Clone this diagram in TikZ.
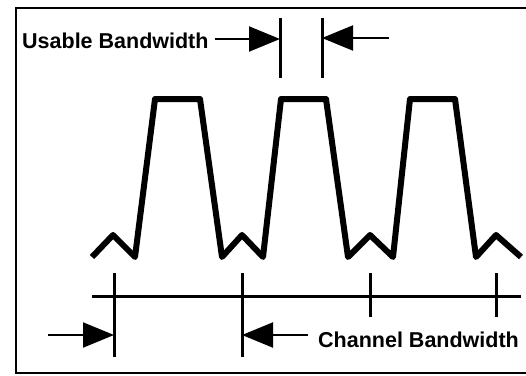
\documentclass[tikz,border=0pt]{standalone}
\usepackage{fontspec}
\setmainfont{Liberation Sans}
\usetikzlibrary{arrows.meta}

\begin{document}
\begin{tikzpicture}[x=1pt,y=-1pt,
    label/.style={inner sep=0pt,font=\fontsize{21.5}{24}\selectfont\bfseries},
    marker/.style={line width=3pt},
    pointer/.style={line width=2pt,-{Triangle[length=31pt,width=25pt]}}]
                    \useasboundingbox (0,0) rectangle (526,375);
                    % frame
                    \draw[line width=2.5pt] (528,8) -- (16,8) -- (16,373) -- (528,373);

                    % spectrum
                    \draw[line width=6pt,line join=round] (92,257) -- (113,235) -- (135,257) -- (155,99) -- (200,99)
                        -- (222,257) -- (242,235) -- (263,257) -- (281,99) -- (326,99) -- (348,257) -- (370,235)
                        -- (393,257) -- (410,99) -- (455,99) -- (476,257) -- (496,235) -- (521,257);

                    % labels
                    \node[label,anchor=base west] (ub) at (22,48) {Usable Bandwidth};
                    \node[label,anchor=base west] (cb) at (318,347) {Channel Bandwidth};

                    % usable bandwidth limits
                    \coordinate (u1) at (280,18); \coordinate (u1b) at (280,78);
                    \coordinate (u2) at (322,18); \coordinate (u2b) at (322,78);
                    \draw[marker] (u1) -- (u1b);
                    \draw[marker] (u2) -- (u2b);
                    \coordinate (ua) at (280,39);
                    \coordinate (ub2) at (322,38);
                    \coordinate (ue) at (389,38);
                    \draw[pointer] ([xshift=6pt]ub.east |- ua) -- (ua);
                    \draw[pointer] (ue) -- (ub2);

                    % axis and channel ticks
                    \coordinate (a0) at (92,296); \coordinate (a1) at (521,296);
                    \draw[marker] (a0) -- (a1);
                    \foreach \x/\y in {114/357,242/357,370/317,496/317}
                        \draw[marker] (\x,273) -- (\x,\y);

                    % channel bandwidth arrows
                    \coordinate (c0) at (48,335); \coordinate (c1) at (114,335);
                    \coordinate (c2) at (242,335);
                    \draw[pointer] (c0) -- (c1);
                    \draw[pointer] ([xshift=-10pt]cb.west |- c2) -- (c2);
                \end{tikzpicture}
\end{document}
